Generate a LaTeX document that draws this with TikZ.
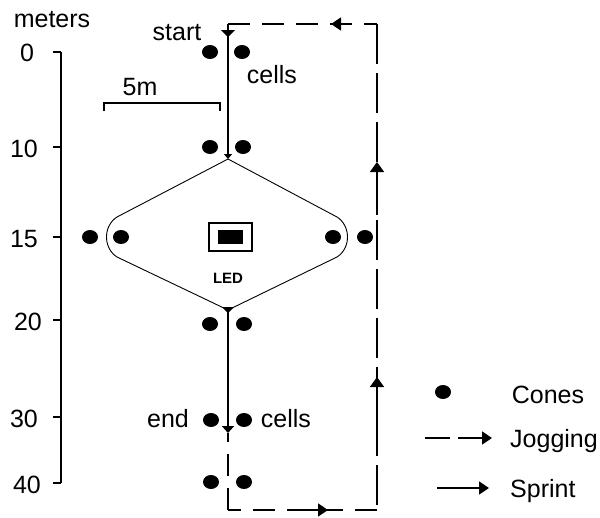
\documentclass[tikz,border=0pt]{standalone}
\usepackage{fontspec}
\setmainfont{Liberation Sans}
\usetikzlibrary{arrows.meta,shapes.geometric,decorations.markings}
\begin{document}
\begin{tikzpicture}[x=1pt,y=-1pt,
  lbl/.style={font=\fontsize{25}{28}\selectfont, inner sep=0pt, anchor=base},
  lblw/.style={lbl, anchor=base west},
  cone/.style={ellipse, fill=black, minimum width=16pt, minimum height=14pt, inner sep=0pt},
  sprint/.style={line width=1.6pt},
  thinline/.style={line width=0.9pt},
  jogshort/.style={line width=1.6pt, dash pattern=on 22pt off 12pt},
  joglong/.style={line width=1.6pt, dash pattern=on 40pt off 9pt},
  tip/.style={-{Triangle[length=10pt,width=13pt]}},
]
\useasboundingbox (0,0) rectangle (600,517);

% scale axis
\coordinate (ax0) at (61,52);
\coordinate (ax40) at (61,483);
\draw[sprint] (ax0) -- (ax40);
\foreach \yy in {52,147,237,320,417,483} \draw[sprint] (53,\yy) -- (61,\yy);
\node[lbl] (meters) at (52,27) {meters};
\node[lbl] (n0) at (27,61) {0};
\node[lbl] (n10) at (24,157) {10};
\node[lbl] (n15) at (24,247) {15};
\node[lbl] (n20) at (28,330) {20};
\node[lbl] (n30) at (24,427) {30};
\node[lbl] (n40) at (27,493) {40};

% 5m bar
\coordinate (m1) at (104,111);
\coordinate (m2) at (104,103);
\coordinate (m3) at (220,103);
\coordinate (m4) at (220,111);
\draw[sprint] (m1) -- (m2) -- (m3) -- (m4);
\node[lbl] (five) at (140,95) {5m};

% course points
\coordinate (S) at (228,24);
\coordinate (T) at (228,159);
\coordinate (B) at (228,310);
\coordinate (E) at (228,433);
\coordinate (BL) at (228,510);
\coordinate (BR) at (377,510);
\coordinate (TR) at (377,24);

% cones
\node[cone] (c0a) at (210,52) {};
\node[cone] (c0b) at (242,52) {};
\node[cone] (c10a) at (210,147) {};
\node[cone] (c10b) at (243,147) {};
\node[cone] (c15a) at (90,237) {};
\node[cone] (c15b) at (121,237) {};
\node[cone] (c15c) at (333,237) {};
\node[cone] (c15d) at (365,237) {};
\node[cone] (c20a) at (210,324) {};
\node[cone] (c20b) at (244,324) {};
\node[cone] (c30a) at (211,420) {};
\node[cone] (c30b) at (244,420) {};
\node[cone] (c40a) at (211,482) {};
\node[cone] (c40b) at (244,482) {};

% labels
\node[lbl] (start) at (177,40) {start};
\node[lbl] (cells1) at (272,83) {cells};
\node[lbl] (endl) at (168,427) {end};
\node[lbl] (cells2) at (286,427) {cells};

% sprint line
\draw[sprint, -{Triangle[length=5pt,width=8pt]}, postaction={decorate},
  decoration={markings, mark=at position 13pt with {\arrow{Triangle[length=7pt,width=14pt]}}}]
  (S) -- (T);
\draw[sprint, -{Triangle[length=7pt,width=12pt]}] (B) -- (E);

% diamond
\draw[thinline] (T) -- (117,217) .. controls (103,226) and (103,248) .. (117,257) -- (B);
\draw[thinline] (T) -- (337,217) .. controls (351,226) and (351,248) .. (337,257) -- (B);
\fill (222,307) -- (234,307) -- (228,313) -- cycle;

% LED
\node[draw, line width=1.4pt, minimum width=43pt, minimum height=28pt, inner sep=0pt] (ledbox) at (230.5,237) {};
\node[fill=black, minimum width=25pt, minimum height=14pt, inner sep=0pt] (ledin) at (230.5,237) {};
\node[inner sep=0pt, anchor=base, font=\fontsize{15}{17}\selectfont\bfseries] (led) at (228,283) {LED};

% jogging loop
\draw[jogshort] (BL) -- (E);
\draw[jogshort] (BR) -- (BL);
\draw[joglong] (TR) -- (BR);
\draw[jogshort] (S) -- (TR);
\coordinate (ab1) at (298,510); \coordinate (ab2) at (328,510);
\draw[sprint, tip] (ab1) -- (ab2);
\coordinate (ar1) at (377,425); \coordinate (ar2) at (377,377);
\draw[sprint, -{Triangle[length=10pt,width=14pt]}] (ar1) -- (ar2);
\coordinate (ar3) at (377,215); \coordinate (ar4) at (377,162);
\draw[sprint, -{Triangle[length=10pt,width=14pt]}] (ar3) -- (ar4);
\coordinate (at1) at (352,24); \coordinate (at2) at (331,24);
\draw[sprint, tip] (at1) -- (at2);

% legend
\node[cone] (lcone) at (443,392) {};
\node[lbl] (lcones) at (548,403) {Cones};
\coordinate (lj1) at (425,438); \coordinate (lj2) at (450,438);
\coordinate (lj3) at (458,438); \coordinate (lj4) at (492,438);
\draw[sprint] (lj1) -- (lj2);
\draw[sprint, tip] (lj3) -- (lj4);
\node[lblw] (ljog) at (510,447) {Jogging};
\coordinate (ls1) at (437,488); \coordinate (ls2) at (489,488);
\draw[sprint, tip] (ls1) -- (ls2);
\node[lblw] (lspr) at (510,497) {Sprint};
\end{tikzpicture}
\end{document}
